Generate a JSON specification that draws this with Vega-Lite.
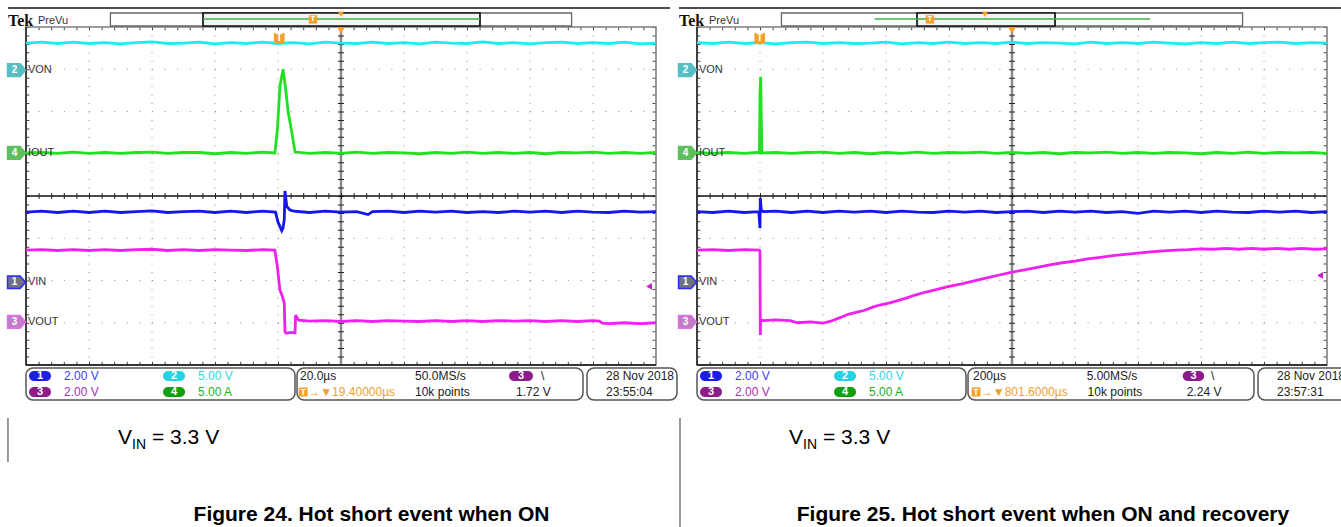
{
"$schema":"https://vega.github.io/schema/vega-lite/v6.json",
"padding":0,
"background":"white",
"bounds":"flush",
"config":{"view":{"stroke":null},"font":"Liberation Sans"},
"data":{"values":[
{"p":["L","R"],"k":"gh","x":0,"x2":10,"y":3,"y2":3},
{"p":["L","R"],"k":"gh","x":0,"x2":10,"y":2,"y2":2},
{"p":["L","R"],"k":"gh","x":0,"x2":10,"y":1,"y2":1},
{"p":["L","R"],"k":"gh","x":0,"x2":10,"y":-1,"y2":-1},
{"p":["L","R"],"k":"gh","x":0,"x2":10,"y":-2,"y2":-2},
{"p":["L","R"],"k":"gh","x":0,"x2":10,"y":-3,"y2":-3},
{"p":["L","R"],"k":"gv","x":1,"x2":1,"y":4,"y2":-4},
{"p":["L","R"],"k":"gv","x":2,"x2":2,"y":4,"y2":-4},
{"p":["L","R"],"k":"gv","x":3,"x2":3,"y":4,"y2":-4},
{"p":["L","R"],"k":"gv","x":4,"x2":4,"y":4,"y2":-4},
{"p":["L","R"],"k":"gv","x":6,"x2":6,"y":4,"y2":-4},
{"p":["L","R"],"k":"gv","x":7,"x2":7,"y":4,"y2":-4},
{"p":["L","R"],"k":"gv","x":8,"x2":8,"y":4,"y2":-4},
{"p":["L","R"],"k":"gv","x":9,"x2":9,"y":4,"y2":-4},
{"p":["L","R"],"k":"eh","x":0,"x2":10,"y":3.96,"y2":3.96},
{"p":["L","R"],"k":"eh","x":0,"x2":10,"y":-3.96,"y2":-3.96},
{"p":["L","R"],"k":"ev","x":0.03,"x2":0.03,"y":4,"y2":-4},
{"p":["L","R"],"k":"ev","x":9.97,"x2":9.97,"y":4,"y2":-4},
{"p":["L","R"],"k":"cv","x":5,"x2":5,"y":4,"y2":-4},
{"p":["L","R"],"k":"ch","x":0,"x2":10,"y":0,"y2":0},
{"p":["L","R"],"k":"bd","x":0,"x2":10,"y":-4,"y2":4},
{"p":["L","R"],"k":"bk","x":0,"x2":0,"y":4,"y2":-4},
{"p":["L","R"],"k":"bk","x":0,"x2":10,"y":-4,"y2":-4},
{"p":["L","R"],"k":"hl","x":-0.286,"x2":10.222,"y":4.45,"y2":4.45},
{"p":["L","R"],"k":"hb","x":1.34,"x2":8.66,"y":4.024,"y2":4.331},
{"p":["L"],"k":"hw","x":2.81,"x2":7.206,"y":4.024,"y2":4.331},
{"p":["R"],"k":"hw","x":3.492,"x2":5.683,"y":4.024,"y2":4.331},
{"p":["L"],"k":"hg","x":2.81,"x2":7.206,"y":4.189,"y2":4.189},
{"p":["R"],"k":"hg","x":2.82,"x2":7.19,"y":4.189,"y2":4.189},
{"p":["L"],"k":"th","x":4.556,"y":4.18},
{"p":["R"],"k":"th","x":3.698,"y":4.18},
{"p":["L"],"k":"vh","x":5.0,"y":4.3},
{"p":["R"],"k":"vh","x":4.571,"y":4.3},
{"p":["L","R"],"k":"vg","x":5,"y":3.92},
{"p":["L"],"k":"tg","x":4.02,"y":3.73},
{"p":["R"],"k":"tg","x":0.995,"y":3.73},
{"p":["L","R"],"k":"tek","x":-0.286,"y":4.024,"tx":"Tek"},
{"p":["L","R"],"k":"pv","x":0.19,"y":4.07,"tx":"PreVu"},
{"p":["L","R"],"k":"cm","c":"2","x":-0.15,"y":2.98},
{"p":["L","R"],"k":"cm","c":"4","x":-0.15,"y":1.02},
{"p":["L","R"],"k":"cm","c":"1","x":-0.15,"y":-2.04},
{"p":["L","R"],"k":"cm","c":"3","x":-0.15,"y":-2.98},
{"p":["L","R"],"k":"cl","x":0.03,"y":2.98,"tx":"VON"},
{"p":["L","R"],"k":"cl","x":0.03,"y":1.02,"tx":"IOUT"},
{"p":["L","R"],"k":"cl","x":0.03,"y":-2.04,"tx":"VIN"},
{"p":["L","R"],"k":"cl","x":0.03,"y":-2.98,"tx":"VOUT"},
{"p":["L"],"k":"tl","x":9.89,"y":-2.14},
{"p":["R"],"k":"tl","x":9.89,"y":-1.88},
{"p":["L","R"],"k":"sb","x":0,"x2":4.27,"y":-4.071,"y2":-4.828},
{"p":["L","R"],"k":"sb","x":4.302,"x2":8.841,"y":-4.071,"y2":-4.828},
{"p":["L","R"],"k":"sb","x":8.905,"x2":10.333,"y":-4.071,"y2":-4.828},
{"p":["L","R"],"k":"bg","c":"1","x":0.048,"x2":0.397,"y":-4.142,"y2":-4.379},
{"p":["L","R"],"k":"bg","c":"2","x":2.175,"x2":2.524,"y":-4.142,"y2":-4.379},
{"p":["L","R"],"k":"bg","c":"3","x":0.048,"x2":0.397,"y":-4.521,"y2":-4.757},
{"p":["L","R"],"k":"bg","c":"4","x":2.175,"x2":2.524,"y":-4.521,"y2":-4.757},
{"p":["L"],"k":"bg","c":"3","x":7.667,"x2":8.048,"y":-4.142,"y2":-4.379},
{"p":["R"],"k":"bg","c":"3","x":7.71,"x2":8.05,"y":-4.142,"y2":-4.379},
{"p":["L","R"],"k":"bt","c":"1","x":0.222,"y":-4.26},
{"p":["L","R"],"k":"bt","c":"2","x":2.349,"y":-4.26},
{"p":["L","R"],"k":"bt","c":"3","x":0.222,"y":-4.639},
{"p":["L","R"],"k":"bt","c":"4","x":2.349,"y":-4.639},
{"p":["L"],"k":"bt","c":"3","x":7.857,"y":-4.26},
{"p":["R"],"k":"bt","c":"3","x":7.88,"y":-4.26},
{"p":["L","R"],"k":"sv","c":"1","x":0.603,"y":-4.26,"tx":"2.00 V"},
{"p":["L","R"],"k":"sv","c":"2","x":2.73,"y":-4.26,"tx":"5.00 V"},
{"p":["L","R"],"k":"sv","c":"3","x":0.603,"y":-4.639,"tx":"2.00 V"},
{"p":["L","R"],"k":"sv","c":"4","x":2.73,"y":-4.639,"tx":"5.00 A"},
{"p":["L"],"k":"st","x":4.349,"y":-4.26,"tx":"20.0µs"},
{"p":["L"],"k":"st","x":6.175,"y":-4.26,"tx":"50.0MS/s"},
{"p":["L"],"k":"st","x":6.175,"y":-4.639,"tx":"10k points"},
{"p":["L"],"k":"st","x":8.175,"y":-4.26,"tx":"\\"},
{"p":["L"],"k":"st","x":7.778,"y":-4.639,"tx":"1.72 V"},
{"p":["L"],"k":"st","x":9.206,"y":-4.26,"tx":"28 Nov 2018"},
{"p":["L"],"k":"st","x":9.206,"y":-4.639,"tx":"23:55:04"},
{"p":["R"],"k":"st","x":4.381,"y":-4.26,"tx":"200µs"},
{"p":["R"],"k":"st","x":6.185,"y":-4.26,"tx":"5.00MS/s"},
{"p":["R"],"k":"st","x":6.2,"y":-4.639,"tx":"10k points"},
{"p":["R"],"k":"st","x":8.16,"y":-4.26,"tx":"\\"},
{"p":["R"],"k":"st","x":7.773,"y":-4.639,"tx":"2.24 V"},
{"p":["R"],"k":"st","x":9.206,"y":-4.26,"tx":"28 Nov 2018"},
{"p":["R"],"k":"st","x":9.206,"y":-4.639,"tx":"23:57:31"},
{"p":["L"],"k":"ts","x":4.40,"y":-4.639},
{"p":["R"],"k":"ts","x":4.43,"y":-4.639},
{"p":["L"],"k":"so","x":4.48,"y":-4.639,"tx":"→▼19.40000µs"},
{"p":["R"],"k":"so","x":4.505,"y":-4.639,"tx":"→▼801.6000µs"},
{"p":["L","R"],"k":"cap","x":1.46,"y":-5.87,"tx":"V"},
{"p":["L","R"],"k":"sub","x":1.683,"y":-5.99,"tx":"IN"},
{"p":["L","R"],"k":"cap","x":2.0,"y":-5.87,"tx":"= 3.3 V"},
{"p":["L"],"k":"fig","x":5.484,"y":-7.69,"tx":"Figure 24. Hot short event when ON"},
{"p":["R"],"k":"fig","x":5.492,"y":-7.69,"tx":"Figure 25. Hot short event when ON and recovery"},
{"p":["L"],"k":"sep","x":-0.286,"x2":-0.286,"y":-5.254,"y2":-6.296},
{"p":["R"],"k":"sep","x":-0.27,"x2":-0.27,"y":-5.254,"y2":-7.834},

{"p":["L"],"k":"tr","c":"2","x":0,"y":3.62},{"p":["L"],"k":"tr","c":"2","x":0.25,"y":3.64},{"p":["L"],"k":"tr","c":"2","x":0.5,"y":3.61},{"p":["L"],"k":"tr","c":"2","x":0.75,"y":3.64},{"p":["L"],"k":"tr","c":"2","x":1,"y":3.61},{"p":["L"],"k":"tr","c":"2","x":1.25,"y":3.63},{"p":["L"],"k":"tr","c":"2","x":1.5,"y":3.60},{"p":["L"],"k":"tr","c":"2","x":1.75,"y":3.63},{"p":["L"],"k":"tr","c":"2","x":2,"y":3.65},{"p":["L"],"k":"tr","c":"2","x":2.25,"y":3.61},{"p":["L"],"k":"tr","c":"2","x":2.5,"y":3.62},{"p":["L"],"k":"tr","c":"2","x":2.75,"y":3.64},{"p":["L"],"k":"tr","c":"2","x":3,"y":3.60},{"p":["L"],"k":"tr","c":"2","x":3.25,"y":3.63},{"p":["L"],"k":"tr","c":"2","x":3.5,"y":3.61},{"p":["L"],"k":"tr","c":"2","x":3.75,"y":3.64},{"p":["L"],"k":"tr","c":"2","x":4,"y":3.61},{"p":["L"],"k":"tr","c":"2","x":4.25,"y":3.63},{"p":["L"],"k":"tr","c":"2","x":4.5,"y":3.60},{"p":["L"],"k":"tr","c":"2","x":4.75,"y":3.64},{"p":["L"],"k":"tr","c":"2","x":5,"y":3.62},{"p":["L"],"k":"tr","c":"2","x":5.25,"y":3.61},{"p":["L"],"k":"tr","c":"2","x":5.5,"y":3.64},{"p":["L"],"k":"tr","c":"2","x":5.75,"y":3.61},{"p":["L"],"k":"tr","c":"2","x":6,"y":3.63},{"p":["L"],"k":"tr","c":"2","x":6.25,"y":3.60},{"p":["L"],"k":"tr","c":"2","x":6.5,"y":3.64},{"p":["L"],"k":"tr","c":"2","x":6.75,"y":3.62},{"p":["L"],"k":"tr","c":"2","x":7,"y":3.61},{"p":["L"],"k":"tr","c":"2","x":7.25,"y":3.65},{"p":["L"],"k":"tr","c":"2","x":7.5,"y":3.61},{"p":["L"],"k":"tr","c":"2","x":7.75,"y":3.63},{"p":["L"],"k":"tr","c":"2","x":8,"y":3.60},{"p":["L"],"k":"tr","c":"2","x":8.25,"y":3.63},{"p":["L"],"k":"tr","c":"2","x":8.5,"y":3.64},{"p":["L"],"k":"tr","c":"2","x":8.75,"y":3.61},{"p":["L"],"k":"tr","c":"2","x":9,"y":3.63},{"p":["L"],"k":"tr","c":"2","x":9.25,"y":3.61},{"p":["L"],"k":"tr","c":"2","x":9.5,"y":3.64},{"p":["L"],"k":"tr","c":"2","x":9.75,"y":3.60},{"p":["L"],"k":"tr","c":"2","x":10,"y":3.62},

{"p":["L"],"k":"tr","c":"4","x":0,"y":1.02},{"p":["L"],"k":"tr","c":"4","x":0.25,"y":1.03},{"p":["L"],"k":"tr","c":"4","x":0.5,"y":1.01},{"p":["L"],"k":"tr","c":"4","x":0.75,"y":1.04},{"p":["L"],"k":"tr","c":"4","x":1,"y":1.01},{"p":["L"],"k":"tr","c":"4","x":1.25,"y":1.03},{"p":["L"],"k":"tr","c":"4","x":1.5,"y":1.01},{"p":["L"],"k":"tr","c":"4","x":1.75,"y":1.03},{"p":["L"],"k":"tr","c":"4","x":2,"y":1.04},{"p":["L"],"k":"tr","c":"4","x":2.25,"y":1.01},{"p":["L"],"k":"tr","c":"4","x":2.5,"y":1.03},{"p":["L"],"k":"tr","c":"4","x":2.75,"y":1.03},{"p":["L"],"k":"tr","c":"4","x":3,"y":1.00},{"p":["L"],"k":"tr","c":"4","x":3.25,"y":1.03},{"p":["L"],"k":"tr","c":"4","x":3.5,"y":1.01},{"p":["L"],"k":"tr","c":"4","x":3.75,"y":1.04},{"p":["L"],"k":"tr","c":"4","x":3.95,"y":1.02},{"p":["L"],"k":"tr","c":"4","x":3.99,"y":1.56},{"p":["L"],"k":"tr","c":"4","x":4.03,"y":2.59},{"p":["L"],"k":"tr","c":"4","x":4.08,"y":3.0},{"p":["L"],"k":"tr","c":"4","x":4.12,"y":2.55},{"p":["L"],"k":"tr","c":"4","x":4.16,"y":2.0},{"p":["L"],"k":"tr","c":"4","x":4.22,"y":1.5},{"p":["L"],"k":"tr","c":"4","x":4.27,"y":1.04},{"p":["L"],"k":"tr","c":"4","x":4.5,"y":1.01},{"p":["L"],"k":"tr","c":"4","x":4.75,"y":1.03},{"p":["L"],"k":"tr","c":"4","x":5,"y":1.01},{"p":["L"],"k":"tr","c":"4","x":5.25,"y":1.04},{"p":["L"],"k":"tr","c":"4","x":5.5,"y":1.01},{"p":["L"],"k":"tr","c":"4","x":5.75,"y":1.03},{"p":["L"],"k":"tr","c":"4","x":6,"y":1.02},{"p":["L"],"k":"tr","c":"4","x":6.25,"y":1.00},{"p":["L"],"k":"tr","c":"4","x":6.5,"y":1.03},{"p":["L"],"k":"tr","c":"4","x":6.75,"y":1.01},{"p":["L"],"k":"tr","c":"4","x":7,"y":1.04},{"p":["L"],"k":"tr","c":"4","x":7.25,"y":1.01},{"p":["L"],"k":"tr","c":"4","x":7.5,"y":1.03},{"p":["L"],"k":"tr","c":"4","x":7.75,"y":1.01},{"p":["L"],"k":"tr","c":"4","x":8,"y":1.03},{"p":["L"],"k":"tr","c":"4","x":8.25,"y":1.00},{"p":["L"],"k":"tr","c":"4","x":8.5,"y":1.03},{"p":["L"],"k":"tr","c":"4","x":8.75,"y":1.02},{"p":["L"],"k":"tr","c":"4","x":9,"y":1.04},{"p":["L"],"k":"tr","c":"4","x":9.25,"y":1.01},{"p":["L"],"k":"tr","c":"4","x":9.5,"y":1.03},{"p":["L"],"k":"tr","c":"4","x":9.75,"y":1.01},{"p":["L"],"k":"tr","c":"4","x":10,"y":1.03},

{"p":["L"],"k":"tr","c":"1","x":0,"y":-0.38},{"p":["L"],"k":"tr","c":"1","x":0.25,"y":-0.36},{"p":["L"],"k":"tr","c":"1","x":0.5,"y":-0.39},{"p":["L"],"k":"tr","c":"1","x":0.75,"y":-0.36},{"p":["L"],"k":"tr","c":"1","x":1,"y":-0.39},{"p":["L"],"k":"tr","c":"1","x":1.25,"y":-0.36},{"p":["L"],"k":"tr","c":"1","x":1.5,"y":-0.39},{"p":["L"],"k":"tr","c":"1","x":1.75,"y":-0.37},{"p":["L"],"k":"tr","c":"1","x":2,"y":-0.35},{"p":["L"],"k":"tr","c":"1","x":2.25,"y":-0.39},{"p":["L"],"k":"tr","c":"1","x":2.5,"y":-0.37},{"p":["L"],"k":"tr","c":"1","x":2.75,"y":-0.36},{"p":["L"],"k":"tr","c":"1","x":3,"y":-0.39},{"p":["L"],"k":"tr","c":"1","x":3.25,"y":-0.36},{"p":["L"],"k":"tr","c":"1","x":3.5,"y":-0.39},{"p":["L"],"k":"tr","c":"1","x":3.75,"y":-0.36},{"p":["L"],"k":"tr","c":"1","x":3.96,"y":-0.38},{"p":["L"],"k":"tr","c":"1","x":4.0,"y":-0.62},{"p":["L"],"k":"tr","c":"1","x":4.06,"y":-0.82},{"p":["L"],"k":"tr","c":"1","x":4.08,"y":-0.76},{"p":["L"],"k":"tr","c":"1","x":4.10,"y":-0.55},{"p":["L"],"k":"tr","c":"1","x":4.11,"y":0.12},{"p":["L"],"k":"tr","c":"1","x":4.14,"y":-0.25},{"p":["L"],"k":"tr","c":"1","x":4.19,"y":-0.33},{"p":["L"],"k":"tr","c":"1","x":4.25,"y":-0.36},{"p":["L"],"k":"tr","c":"1","x":4.5,"y":-0.39},{"p":["L"],"k":"tr","c":"1","x":4.75,"y":-0.36},{"p":["L"],"k":"tr","c":"1","x":5,"y":-0.38},{"p":["L"],"k":"tr","c":"1","x":5.25,"y":-0.37},{"p":["L"],"k":"tr","c":"1","x":5.43,"y":-0.44},{"p":["L"],"k":"tr","c":"1","x":5.5,"y":-0.37},{"p":["L"],"k":"tr","c":"1","x":5.75,"y":-0.36},{"p":["L"],"k":"tr","c":"1","x":6,"y":-0.39},{"p":["L"],"k":"tr","c":"1","x":6.25,"y":-0.36},{"p":["L"],"k":"tr","c":"1","x":6.5,"y":-0.38},{"p":["L"],"k":"tr","c":"1","x":6.75,"y":-0.36},{"p":["L"],"k":"tr","c":"1","x":7,"y":-0.39},{"p":["L"],"k":"tr","c":"1","x":7.25,"y":-0.37},{"p":["L"],"k":"tr","c":"1","x":7.5,"y":-0.39},{"p":["L"],"k":"tr","c":"1","x":7.75,"y":-0.36},{"p":["L"],"k":"tr","c":"1","x":8,"y":-0.38},{"p":["L"],"k":"tr","c":"1","x":8.25,"y":-0.36},{"p":["L"],"k":"tr","c":"1","x":8.5,"y":-0.39},{"p":["L"],"k":"tr","c":"1","x":8.75,"y":-0.36},{"p":["L"],"k":"tr","c":"1","x":9,"y":-0.38},{"p":["L"],"k":"tr","c":"1","x":9.25,"y":-0.39},{"p":["L"],"k":"tr","c":"1","x":9.5,"y":-0.36},{"p":["L"],"k":"tr","c":"1","x":9.75,"y":-0.38},{"p":["L"],"k":"tr","c":"1","x":10,"y":-0.37},

{"p":["L"],"k":"tr","c":"3","x":0,"y":-1.28},{"p":["L"],"k":"tr","c":"3","x":0.25,"y":-1.27},{"p":["L"],"k":"tr","c":"3","x":0.5,"y":-1.29},{"p":["L"],"k":"tr","c":"3","x":0.75,"y":-1.27},{"p":["L"],"k":"tr","c":"3","x":1,"y":-1.29},{"p":["L"],"k":"tr","c":"3","x":1.25,"y":-1.27},{"p":["L"],"k":"tr","c":"3","x":1.5,"y":-1.29},{"p":["L"],"k":"tr","c":"3","x":1.75,"y":-1.27},{"p":["L"],"k":"tr","c":"3","x":2,"y":-1.26},{"p":["L"],"k":"tr","c":"3","x":2.25,"y":-1.29},{"p":["L"],"k":"tr","c":"3","x":2.5,"y":-1.27},{"p":["L"],"k":"tr","c":"3","x":2.75,"y":-1.29},{"p":["L"],"k":"tr","c":"3","x":3,"y":-1.27},{"p":["L"],"k":"tr","c":"3","x":3.25,"y":-1.28},{"p":["L"],"k":"tr","c":"3","x":3.5,"y":-1.29},{"p":["L"],"k":"tr","c":"3","x":3.75,"y":-1.27},{"p":["L"],"k":"tr","c":"3","x":3.95,"y":-1.28},{"p":["L"],"k":"tr","c":"3","x":3.99,"y":-1.67},{"p":["L"],"k":"tr","c":"3","x":4.03,"y":-2.22},{"p":["L"],"k":"tr","c":"3","x":4.07,"y":-2.38},{"p":["L"],"k":"tr","c":"3","x":4.10,"y":-2.54},{"p":["L"],"k":"tr","c":"3","x":4.11,"y":-3.21},{"p":["L"],"k":"tr","c":"3","x":4.13,"y":-3.25},{"p":["L"],"k":"tr","c":"3","x":4.2,"y":-3.23},{"p":["L"],"k":"tr","c":"3","x":4.27,"y":-3.24},{"p":["L"],"k":"tr","c":"3","x":4.28,"y":-2.82},{"p":["L"],"k":"tr","c":"3","x":4.30,"y":-2.88},{"p":["L"],"k":"tr","c":"3","x":4.33,"y":-2.94},{"p":["L"],"k":"tr","c":"3","x":4.5,"y":-2.96},{"p":["L"],"k":"tr","c":"3","x":4.75,"y":-2.95},{"p":["L"],"k":"tr","c":"3","x":5,"y":-2.97},{"p":["L"],"k":"tr","c":"3","x":5.25,"y":-2.95},{"p":["L"],"k":"tr","c":"3","x":5.5,"y":-2.97},{"p":["L"],"k":"tr","c":"3","x":5.75,"y":-2.95},{"p":["L"],"k":"tr","c":"3","x":6,"y":-2.96},{"p":["L"],"k":"tr","c":"3","x":6.25,"y":-2.97},{"p":["L"],"k":"tr","c":"3","x":6.5,"y":-2.95},{"p":["L"],"k":"tr","c":"3","x":6.75,"y":-2.97},{"p":["L"],"k":"tr","c":"3","x":7,"y":-2.95},{"p":["L"],"k":"tr","c":"3","x":7.25,"y":-2.97},{"p":["L"],"k":"tr","c":"3","x":7.5,"y":-2.95},{"p":["L"],"k":"tr","c":"3","x":7.75,"y":-2.96},{"p":["L"],"k":"tr","c":"3","x":8,"y":-2.95},{"p":["L"],"k":"tr","c":"3","x":8.25,"y":-2.97},{"p":["L"],"k":"tr","c":"3","x":8.5,"y":-2.95},{"p":["L"],"k":"tr","c":"3","x":8.75,"y":-2.97},{"p":["L"],"k":"tr","c":"3","x":9,"y":-2.95},{"p":["L"],"k":"tr","c":"3","x":9.1,"y":-2.96},{"p":["L"],"k":"tr","c":"3","x":9.15,"y":-3.01},{"p":["L"],"k":"tr","c":"3","x":9.25,"y":-3.02},{"p":["L"],"k":"tr","c":"3","x":9.5,"y":-3.00},{"p":["L"],"k":"tr","c":"3","x":9.75,"y":-3.02},{"p":["L"],"k":"tr","c":"3","x":10,"y":-3.00},

{"p":["R"],"k":"tr","c":"2","x":0,"y":3.63},{"p":["R"],"k":"tr","c":"2","x":0.25,"y":3.61},{"p":["R"],"k":"tr","c":"2","x":0.5,"y":3.64},{"p":["R"],"k":"tr","c":"2","x":0.75,"y":3.61},{"p":["R"],"k":"tr","c":"2","x":1,"y":3.63},{"p":["R"],"k":"tr","c":"2","x":1.25,"y":3.60},{"p":["R"],"k":"tr","c":"2","x":1.5,"y":3.63},{"p":["R"],"k":"tr","c":"2","x":1.75,"y":3.64},{"p":["R"],"k":"tr","c":"2","x":2,"y":3.61},{"p":["R"],"k":"tr","c":"2","x":2.25,"y":3.63},{"p":["R"],"k":"tr","c":"2","x":2.5,"y":3.61},{"p":["R"],"k":"tr","c":"2","x":2.75,"y":3.62},{"p":["R"],"k":"tr","c":"2","x":3,"y":3.64},{"p":["R"],"k":"tr","c":"2","x":3.25,"y":3.60},{"p":["R"],"k":"tr","c":"2","x":3.5,"y":3.63},{"p":["R"],"k":"tr","c":"2","x":3.75,"y":3.61},{"p":["R"],"k":"tr","c":"2","x":4,"y":3.64},{"p":["R"],"k":"tr","c":"2","x":4.25,"y":3.61},{"p":["R"],"k":"tr","c":"2","x":4.5,"y":3.63},{"p":["R"],"k":"tr","c":"2","x":4.75,"y":3.61},{"p":["R"],"k":"tr","c":"2","x":5,"y":3.64},{"p":["R"],"k":"tr","c":"2","x":5.25,"y":3.61},{"p":["R"],"k":"tr","c":"2","x":5.5,"y":3.63},{"p":["R"],"k":"tr","c":"2","x":5.75,"y":3.62},{"p":["R"],"k":"tr","c":"2","x":6,"y":3.60},{"p":["R"],"k":"tr","c":"2","x":6.25,"y":3.64},{"p":["R"],"k":"tr","c":"2","x":6.5,"y":3.61},{"p":["R"],"k":"tr","c":"2","x":6.75,"y":3.63},{"p":["R"],"k":"tr","c":"2","x":7,"y":3.61},{"p":["R"],"k":"tr","c":"2","x":7.25,"y":3.64},{"p":["R"],"k":"tr","c":"2","x":7.5,"y":3.62},{"p":["R"],"k":"tr","c":"2","x":7.75,"y":3.60},{"p":["R"],"k":"tr","c":"2","x":8,"y":3.63},{"p":["R"],"k":"tr","c":"2","x":8.25,"y":3.61},{"p":["R"],"k":"tr","c":"2","x":8.5,"y":3.64},{"p":["R"],"k":"tr","c":"2","x":8.75,"y":3.61},{"p":["R"],"k":"tr","c":"2","x":9,"y":3.63},{"p":["R"],"k":"tr","c":"2","x":9.25,"y":3.64},{"p":["R"],"k":"tr","c":"2","x":9.5,"y":3.61},{"p":["R"],"k":"tr","c":"2","x":9.75,"y":3.63},{"p":["R"],"k":"tr","c":"2","x":10,"y":3.62},

{"p":["R"],"k":"tr","c":"4","x":0,"y":1.03},{"p":["R"],"k":"tr","c":"4","x":0.25,"y":1.01},{"p":["R"],"k":"tr","c":"4","x":0.5,"y":1.03},{"p":["R"],"k":"tr","c":"4","x":0.75,"y":1.01},{"p":["R"],"k":"tr","c":"4","x":0.95,"y":1.03},{"p":["R"],"k":"tr","c":"4","x":0.99,"y":1.02},{"p":["R"],"k":"tr","c":"4","x":1.0,"y":2.4},{"p":["R"],"k":"tr","c":"4","x":1.01,"y":2.82},{"p":["R"],"k":"tr","c":"4","x":1.02,"y":1.9},{"p":["R"],"k":"tr","c":"4","x":1.03,"y":1.02},{"p":["R"],"k":"tr","c":"4","x":1.25,"y":1.03},{"p":["R"],"k":"tr","c":"4","x":1.5,"y":1.01},{"p":["R"],"k":"tr","c":"4","x":1.75,"y":1.03},{"p":["R"],"k":"tr","c":"4","x":2,"y":1.04},{"p":["R"],"k":"tr","c":"4","x":2.25,"y":1.01},{"p":["R"],"k":"tr","c":"4","x":2.5,"y":1.03},{"p":["R"],"k":"tr","c":"4","x":2.75,"y":1.00},{"p":["R"],"k":"tr","c":"4","x":3,"y":1.03},{"p":["R"],"k":"tr","c":"4","x":3.25,"y":1.01},{"p":["R"],"k":"tr","c":"4","x":3.5,"y":1.04},{"p":["R"],"k":"tr","c":"4","x":3.75,"y":1.01},{"p":["R"],"k":"tr","c":"4","x":4,"y":1.03},{"p":["R"],"k":"tr","c":"4","x":4.25,"y":1.02},{"p":["R"],"k":"tr","c":"4","x":4.5,"y":1.04},{"p":["R"],"k":"tr","c":"4","x":4.75,"y":1.01},{"p":["R"],"k":"tr","c":"4","x":5,"y":1.03},{"p":["R"],"k":"tr","c":"4","x":5.25,"y":1.01},{"p":["R"],"k":"tr","c":"4","x":5.5,"y":1.03},{"p":["R"],"k":"tr","c":"4","x":5.75,"y":1.00},{"p":["R"],"k":"tr","c":"4","x":6,"y":1.03},{"p":["R"],"k":"tr","c":"4","x":6.25,"y":1.02},{"p":["R"],"k":"tr","c":"4","x":6.5,"y":1.04},{"p":["R"],"k":"tr","c":"4","x":6.75,"y":1.01},{"p":["R"],"k":"tr","c":"4","x":7,"y":1.03},{"p":["R"],"k":"tr","c":"4","x":7.25,"y":1.01},{"p":["R"],"k":"tr","c":"4","x":7.5,"y":1.03},{"p":["R"],"k":"tr","c":"4","x":7.75,"y":1.02},{"p":["R"],"k":"tr","c":"4","x":8,"y":1.00},{"p":["R"],"k":"tr","c":"4","x":8.25,"y":1.03},{"p":["R"],"k":"tr","c":"4","x":8.5,"y":1.01},{"p":["R"],"k":"tr","c":"4","x":8.75,"y":1.04},{"p":["R"],"k":"tr","c":"4","x":9,"y":1.01},{"p":["R"],"k":"tr","c":"4","x":9.25,"y":1.03},{"p":["R"],"k":"tr","c":"4","x":9.5,"y":1.02},{"p":["R"],"k":"tr","c":"4","x":9.75,"y":1.03},{"p":["R"],"k":"tr","c":"4","x":10,"y":1.01},

{"p":["R"],"k":"tr","c":"1","x":0,"y":-0.37},{"p":["R"],"k":"tr","c":"1","x":0.25,"y":-0.39},{"p":["R"],"k":"tr","c":"1","x":0.5,"y":-0.36},{"p":["R"],"k":"tr","c":"1","x":0.75,"y":-0.39},{"p":["R"],"k":"tr","c":"1","x":0.98,"y":-0.37},{"p":["R"],"k":"tr","c":"1","x":1.0,"y":-0.76},{"p":["R"],"k":"tr","c":"1","x":1.005,"y":-0.05},{"p":["R"],"k":"tr","c":"1","x":1.02,"y":-0.33},{"p":["R"],"k":"tr","c":"1","x":1.05,"y":-0.37},{"p":["R"],"k":"tr","c":"1","x":1.25,"y":-0.36},{"p":["R"],"k":"tr","c":"1","x":1.5,"y":-0.39},{"p":["R"],"k":"tr","c":"1","x":1.75,"y":-0.36},{"p":["R"],"k":"tr","c":"1","x":2,"y":-0.39},{"p":["R"],"k":"tr","c":"1","x":2.25,"y":-0.36},{"p":["R"],"k":"tr","c":"1","x":2.5,"y":-0.38},{"p":["R"],"k":"tr","c":"1","x":2.75,"y":-0.36},{"p":["R"],"k":"tr","c":"1","x":3,"y":-0.39},{"p":["R"],"k":"tr","c":"1","x":3.25,"y":-0.36},{"p":["R"],"k":"tr","c":"1","x":3.5,"y":-0.38},{"p":["R"],"k":"tr","c":"1","x":3.75,"y":-0.39},{"p":["R"],"k":"tr","c":"1","x":4,"y":-0.36},{"p":["R"],"k":"tr","c":"1","x":4.25,"y":-0.38},{"p":["R"],"k":"tr","c":"1","x":4.5,"y":-0.36},{"p":["R"],"k":"tr","c":"1","x":4.75,"y":-0.39},{"p":["R"],"k":"tr","c":"1","x":5,"y":-0.37},{"p":["R"],"k":"tr","c":"1","x":5.25,"y":-0.36},{"p":["R"],"k":"tr","c":"1","x":5.5,"y":-0.39},{"p":["R"],"k":"tr","c":"1","x":5.75,"y":-0.36},{"p":["R"],"k":"tr","c":"1","x":6,"y":-0.38},{"p":["R"],"k":"tr","c":"1","x":6.25,"y":-0.36},{"p":["R"],"k":"tr","c":"1","x":6.5,"y":-0.39},{"p":["R"],"k":"tr","c":"1","x":6.75,"y":-0.37},{"p":["R"],"k":"tr","c":"1","x":7,"y":-0.41},{"p":["R"],"k":"tr","c":"1","x":7.25,"y":-0.36},{"p":["R"],"k":"tr","c":"1","x":7.5,"y":-0.38},{"p":["R"],"k":"tr","c":"1","x":7.75,"y":-0.36},{"p":["R"],"k":"tr","c":"1","x":8,"y":-0.39},{"p":["R"],"k":"tr","c":"1","x":8.25,"y":-0.36},{"p":["R"],"k":"tr","c":"1","x":8.5,"y":-0.38},{"p":["R"],"k":"tr","c":"1","x":8.75,"y":-0.39},{"p":["R"],"k":"tr","c":"1","x":9,"y":-0.36},{"p":["R"],"k":"tr","c":"1","x":9.25,"y":-0.38},{"p":["R"],"k":"tr","c":"1","x":9.5,"y":-0.36},{"p":["R"],"k":"tr","c":"1","x":9.75,"y":-0.39},{"p":["R"],"k":"tr","c":"1","x":10,"y":-0.37},

{"p":["R"],"k":"tr","c":"3","x":0,"y":-1.28},{"p":["R"],"k":"tr","c":"3","x":0.25,"y":-1.27},{"p":["R"],"k":"tr","c":"3","x":0.5,"y":-1.29},{"p":["R"],"k":"tr","c":"3","x":0.75,"y":-1.27},{"p":["R"],"k":"tr","c":"3","x":0.99,"y":-1.28},{"p":["R"],"k":"tr","c":"3","x":1.0,"y":-1.30},{"p":["R"],"k":"tr","c":"3","x":1.005,"y":-3.29},{"p":["R"],"k":"tr","c":"3","x":1.01,"y":-2.92},{"p":["R"],"k":"tr","c":"3","x":1.05,"y":-2.95},{"p":["R"],"k":"tr","c":"3","x":1.25,"y":-2.93},{"p":["R"],"k":"tr","c":"3","x":1.48,"y":-2.95},{"p":["R"],"k":"tr","c":"3","x":1.6,"y":-3.00},{"p":["R"],"k":"tr","c":"3","x":1.8,"y":-2.98},{"p":["R"],"k":"tr","c":"3","x":2.0,"y":-3.01},{"p":["R"],"k":"tr","c":"3","x":2.11,"y":-2.97},{"p":["R"],"k":"tr","c":"3","x":2.27,"y":-2.88},{"p":["R"],"k":"tr","c":"3","x":2.4,"y":-2.80},{"p":["R"],"k":"tr","c":"3","x":2.54,"y":-2.75},{"p":["R"],"k":"tr","c":"3","x":2.65,"y":-2.71},{"p":["R"],"k":"tr","c":"3","x":2.79,"y":-2.63},{"p":["R"],"k":"tr","c":"3","x":2.9,"y":-2.58},{"p":["R"],"k":"tr","c":"3","x":3.06,"y":-2.53},{"p":["R"],"k":"tr","c":"3","x":3.2,"y":-2.47},{"p":["R"],"k":"tr","c":"3","x":3.33,"y":-2.41},{"p":["R"],"k":"tr","c":"3","x":3.45,"y":-2.35},{"p":["R"],"k":"tr","c":"3","x":3.59,"y":-2.29},{"p":["R"],"k":"tr","c":"3","x":3.7,"y":-2.25},{"p":["R"],"k":"tr","c":"3","x":3.86,"y":-2.19},{"p":["R"],"k":"tr","c":"3","x":4.0,"y":-2.14},{"p":["R"],"k":"tr","c":"3","x":4.2,"y":-2.08},{"p":["R"],"k":"tr","c":"3","x":4.4,"y":-2.01},{"p":["R"],"k":"tr","c":"3","x":4.6,"y":-1.94},{"p":["R"],"k":"tr","c":"3","x":4.8,"y":-1.87},{"p":["R"],"k":"tr","c":"3","x":5.0,"y":-1.80},{"p":["R"],"k":"tr","c":"3","x":5.2,"y":-1.75},{"p":["R"],"k":"tr","c":"3","x":5.4,"y":-1.69},{"p":["R"],"k":"tr","c":"3","x":5.6,"y":-1.63},{"p":["R"],"k":"tr","c":"3","x":5.8,"y":-1.58},{"p":["R"],"k":"tr","c":"3","x":6.0,"y":-1.54},{"p":["R"],"k":"tr","c":"3","x":6.2,"y":-1.49},{"p":["R"],"k":"tr","c":"3","x":6.4,"y":-1.45},{"p":["R"],"k":"tr","c":"3","x":6.6,"y":-1.41},{"p":["R"],"k":"tr","c":"3","x":6.8,"y":-1.38},{"p":["R"],"k":"tr","c":"3","x":7.0,"y":-1.35},{"p":["R"],"k":"tr","c":"3","x":7.2,"y":-1.32},{"p":["R"],"k":"tr","c":"3","x":7.4,"y":-1.30},{"p":["R"],"k":"tr","c":"3","x":7.6,"y":-1.28},{"p":["R"],"k":"tr","c":"3","x":7.8,"y":-1.27},{"p":["R"],"k":"tr","c":"3","x":8.0,"y":-1.25},{"p":["R"],"k":"tr","c":"3","x":8.2,"y":-1.26},{"p":["R"],"k":"tr","c":"3","x":8.4,"y":-1.24},{"p":["R"],"k":"tr","c":"3","x":8.6,"y":-1.26},{"p":["R"],"k":"tr","c":"3","x":8.8,"y":-1.24},{"p":["R"],"k":"tr","c":"3","x":9.0,"y":-1.26},{"p":["R"],"k":"tr","c":"3","x":9.2,"y":-1.24},{"p":["R"],"k":"tr","c":"3","x":9.4,"y":-1.26},{"p":["R"],"k":"tr","c":"3","x":9.6,"y":-1.24},{"p":["R"],"k":"tr","c":"3","x":9.8,"y":-1.26},{"p":["R"],"k":"tr","c":"3","x":10,"y":-1.25}
]},
"transform":[{"flatten":["p"]}],
"facet":{"column":{"field":"p","type":"nominal","header":{"title":null,"labels":false}}},
"spacing":1,
"spec":{
"width":670,"height":527,
"encoding":{
 "x":{"field":"x","type":"quantitative","scale":{"domain":[-0.4127,10.2222],"nice":false,"zero":false},"axis":null},
 "y":{"field":"y","type":"quantitative","scale":{"domain":[-7.8343,4.6391],"nice":false,"zero":false},"axis":null}
},
"resolve":{"scale":{"color":"independent","fill":"independent","stroke":"independent"}},
"layer":[
{"transform":[{"filter":"datum.k=='gh'"}],"mark":{"type":"rule","color":"#8e8e8e","strokeWidth":1,"strokeDash":[1,11.6]},"encoding":{"x2":{"field":"x2"},"y2":{"field":"y2"}}},
{"transform":[{"filter":"datum.k=='gv'"}],"mark":{"type":"rule","color":"#8e8e8e","strokeWidth":1,"strokeDash":[1,7.45]},"encoding":{"x2":{"field":"x2"},"y2":{"field":"y2"}}},
{"transform":[{"filter":"datum.k=='eh'"}],"mark":{"type":"rule","color":"#444","strokeWidth":3,"strokeDash":[1,11.6]},"encoding":{"x2":{"field":"x2"},"y2":{"field":"y2"}}},
{"transform":[{"filter":"datum.k=='ev'"}],"mark":{"type":"rule","color":"#444","strokeWidth":3,"strokeDash":[1,7.45]},"encoding":{"x2":{"field":"x2"},"y2":{"field":"y2"}}},
{"transform":[{"filter":"datum.k=='cv'"}],"mark":{"type":"rule","color":"#8a8a8a","strokeWidth":2.5},"encoding":{"x2":{"field":"x2"},"y2":{"field":"y2"}}},
{"transform":[{"filter":"datum.k=='cv'"}],"mark":{"type":"rule","color":"#222","strokeWidth":6,"strokeDash":[1,7.45]},"encoding":{"x2":{"field":"x2"},"y2":{"field":"y2"}}},
{"transform":[{"filter":"datum.k=='ch'"}],"mark":{"type":"rule","color":"#111","strokeWidth":1.3},"encoding":{"x2":{"field":"x2"},"y2":{"field":"y2"}}},
{"transform":[{"filter":"datum.k=='ch'"}],"mark":{"type":"rule","color":"#222","strokeWidth":6,"strokeDash":[1,11.6]},"encoding":{"x2":{"field":"x2"},"y2":{"field":"y2"}}},
{"transform":[{"filter":"datum.k=='bd'"}],"mark":{"type":"rect","fill":"transparent","stroke":"#808080","strokeWidth":1.6},"encoding":{"x2":{"field":"x2"},"y2":{"field":"y2"}}},
{"transform":[{"filter":"datum.k=='bk'"}],"mark":{"type":"rule","color":"#111","strokeWidth":1.3},"encoding":{"x2":{"field":"x2"},"y2":{"field":"y2"}}},
{"transform":[{"filter":"datum.k=='tr'"}],"mark":{"type":"line","strokeWidth":2.8,"strokeJoin":"miter"},"encoding":{"color":{"field":"c","type":"nominal","scale":{"domain":["1","2","3","4"],"range":["#1616e8","#1eeaf2","#f020f0","#22e022"]},"legend":null}}},
{"transform":[{"filter":"datum.k=='cm'"}],"mark":{"type":"point","shape":"M-1,-0.7L0.4,-0.7L1,0L0.4,0.7L-1,0.7Z","size":324,"filled":true,"opacity":1,"strokeWidth":1.5},"encoding":{"fill":{"field":"c","type":"nominal","scale":{"domain":["1","2","3","4"],"range":["#707080","#56bfc4","#c07cc4","#5fbf5f"]},"legend":null},"stroke":{"field":"c","type":"nominal","scale":{"domain":["1","2","3","4"],"range":["#2a2aff","#56bfc4","#e070e8","#5fbf5f"]},"legend":null}}},
{"transform":[{"filter":"datum.k=='cm'"}],"mark":{"type":"text","color":"white","fontSize":10,"fontWeight":"bold","dx":-2,"baseline":"middle","align":"center"},"encoding":{"text":{"field":"c"}}},
{"transform":[{"filter":"datum.k=='cl'"}],"mark":{"type":"text","color":"#333","fontSize":11,"align":"left","baseline":"middle"},"encoding":{"text":{"field":"tx"}}},
{"transform":[{"filter":"datum.k=='tl'"}],"mark":{"type":"point","shape":"triangle-left","size":45,"filled":true,"color":"#c81ec8","opacity":1}},
{"transform":[{"filter":"datum.k=='hl'"}],"mark":{"type":"rule","color":"#111","strokeWidth":1.3},"encoding":{"x2":{"field":"x2"},"y2":{"field":"y2"}}},
{"transform":[{"filter":"datum.k=='hb'"}],"mark":{"type":"rect","fill":"white","stroke":"#666","strokeWidth":1.3},"encoding":{"x2":{"field":"x2"},"y2":{"field":"y2"}}},
{"transform":[{"filter":"datum.k=='hw'"}],"mark":{"type":"rect","fill":"#f4f4f4","stroke":"#111","strokeWidth":1.7},"encoding":{"x2":{"field":"x2"},"y2":{"field":"y2"}}},
{"transform":[{"filter":"datum.k=='hg'"}],"mark":{"type":"rule","color":"#3cb43c","strokeWidth":1.5},"encoding":{"x2":{"field":"x2"},"y2":{"field":"y2"}}},
{"transform":[{"filter":"datum.k=='vh'"}],"mark":{"type":"point","shape":"triangle-down","size":40,"filled":true,"color":"#f5a02a","opacity":1}},
{"transform":[{"filter":"datum.k=='vg'"}],"mark":{"type":"point","shape":"triangle-down","size":60,"filled":true,"color":"#f5a02a","opacity":1}},
{"transform":[{"filter":"datum.k=='th'"}],"mark":{"type":"point","shape":"square","size":70,"filled":true,"color":"#f5a02a","opacity":1}},
{"transform":[{"filter":"datum.k=='th'"}],"mark":{"type":"text","color":"white","fontSize":8,"fontWeight":"bold","align":"center","baseline":"middle"},"encoding":{"text":{"value":"T"}}},
{"transform":[{"filter":"datum.k=='tg'"}],"mark":{"type":"point","shape":"square","size":115,"filled":true,"color":"#f5a02a","opacity":1}},
{"transform":[{"filter":"datum.k=='tg'"}],"mark":{"type":"text","color":"white","fontSize":10,"fontWeight":"bold","align":"center","baseline":"middle"},"encoding":{"text":{"value":"T"}}},
{"transform":[{"filter":"datum.k=='tek'"}],"mark":{"type":"text","font":"Liberation Serif","fontSize":16,"fontWeight":"bold","color":"#111","align":"left","baseline":"alphabetic"},"encoding":{"text":{"field":"tx"}}},
{"transform":[{"filter":"datum.k=='pv'"}],"mark":{"type":"text","fontSize":11,"color":"#333","align":"left","baseline":"alphabetic"},"encoding":{"text":{"field":"tx"}}},
{"transform":[{"filter":"datum.k=='sb'"}],"mark":{"type":"rect","fill":"white","stroke":"#555","strokeWidth":1.5,"cornerRadius":7},"encoding":{"x2":{"field":"x2"},"y2":{"field":"y2"}}},
{"transform":[{"filter":"datum.k=='bg'"}],"mark":{"type":"rect","cornerRadius":5},"encoding":{"x2":{"field":"x2"},"y2":{"field":"y2"},"color":{"field":"c","type":"nominal","scale":{"domain":["1","2","3","4"],"range":["#1c1cf0","#24d4e2","#8c1c8c","#10a010"]},"legend":null}}},
{"transform":[{"filter":"datum.k=='bt'"}],"mark":{"type":"text","color":"white","fontSize":11,"fontWeight":"bold","align":"center","baseline":"middle"},"encoding":{"text":{"field":"c"}}},
{"transform":[{"filter":"datum.k=='sv'"}],"mark":{"type":"text","fontSize":12,"align":"left","baseline":"middle"},"encoding":{"text":{"field":"tx"},"color":{"field":"c","type":"nominal","scale":{"domain":["1","2","3","4"],"range":["#3c3cff","#30d8e8","#a830b0","#22b022"]},"legend":null}}},
{"transform":[{"filter":"datum.k=='st'"}],"mark":{"type":"text","fontSize":12,"color":"#222","align":"left","baseline":"middle"},"encoding":{"text":{"field":"tx"}}},
{"transform":[{"filter":"datum.k=='ts'"}],"mark":{"type":"point","shape":"square","size":80,"filled":true,"color":"#f5a02a","opacity":1}},
{"transform":[{"filter":"datum.k=='ts'"}],"mark":{"type":"text","color":"white","fontSize":9,"fontWeight":"bold","align":"center","baseline":"middle"},"encoding":{"text":{"value":"T"}}},
{"transform":[{"filter":"datum.k=='so'"}],"mark":{"type":"text","fontSize":12,"color":"#f0a030","align":"left","baseline":"middle"},"encoding":{"text":{"field":"tx"}}},
{"transform":[{"filter":"datum.k=='cap'"}],"mark":{"type":"text","fontSize":21,"color":"#000","align":"left","baseline":"alphabetic"},"encoding":{"text":{"field":"tx"}}},
{"transform":[{"filter":"datum.k=='sub'"}],"mark":{"type":"text","fontSize":14,"color":"#000","align":"left","baseline":"alphabetic"},"encoding":{"text":{"field":"tx"}}},
{"transform":[{"filter":"datum.k=='fig'"}],"mark":{"type":"text","fontSize":21,"fontWeight":"bold","color":"#000","align":"center","baseline":"alphabetic"},"encoding":{"text":{"field":"tx"}}},
{"transform":[{"filter":"datum.k=='sep'"}],"mark":{"type":"rule","color":"#333","strokeWidth":1},"encoding":{"x2":{"field":"x2"},"y2":{"field":"y2"}}}
]
}
}
